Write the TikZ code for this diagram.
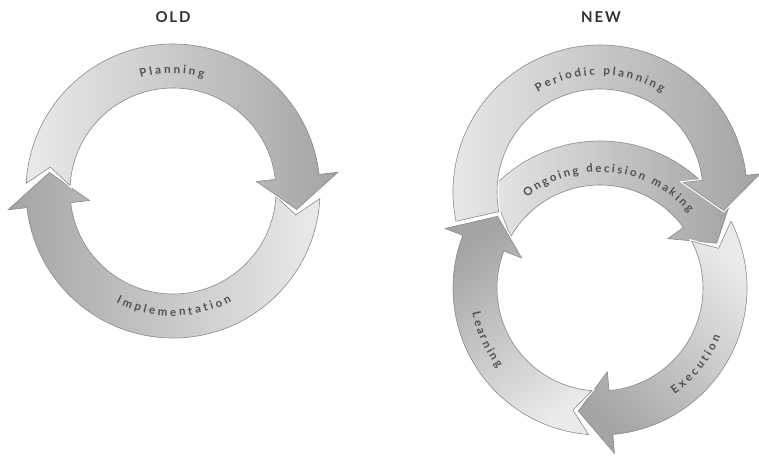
\documentclass[tikz,border=0pt]{standalone}
\usepackage{fontspec}
\setmainfont{Lato}
\usetikzlibrary{decorations.text}
\definecolor{arrlite}{HTML}{EAEAEA}
\definecolor{arrdark}{HTML}{A4A4A4}
\definecolor{arredge}{HTML}{8A8A8A}
\definecolor{lbltext}{HTML}{505050}
\newcommand\lblfont{\fontsize{11.5}{13}\selectfont\bfseries}
\def\RadOut{147pt}\def\RadIn{103pt}\def\RadMid{125pt}\def\BarbOut{166pt}\def\BarbIn{84pt}
% #1 tail corner angle, #2 tail notch apex angle, #3 head base angle, #4 head tip angle, #5 options
\newcommand\ringarrow[5]{\path[#5] (#1:\RadOut) arc[start angle=#1, end angle=#3, radius=\RadOut] -- (#3:\BarbOut) -- (#4:\RadMid) -- (#3:\BarbIn) -- (#3:\RadIn) arc[start angle=#3, end angle=#1, radius=\RadIn] -- (#2:\RadMid) -- cycle;}
% #1 start angle, #2 end angle, #3 radius, #4 text
\newcommand\ringtext[4]{\path[decorate, decoration={text along path, text align={fit to path}, text color=lbltext, text={|\lblfont|#4}}] (#1:#3) arc[start angle=#1, end angle=#2, radius=#3];}
\tikzset{
  arrowbody/.style={draw=arredge, line width=0.6pt, line join=miter},
  gapline/.style={draw=white, line width=3pt, line join=miter},
  titletext/.style={font=\fontsize{15}{17}\selectfont\bfseries\addfontfeature{LetterSpace=12}, text=black!80}
}
\begin{document}
\begin{tikzpicture}[x=1pt,y=1pt]
\useasboundingbox (0,0) rectangle (759,456);
\fill[white] (0,0) rectangle (759,456);

\node[titletext] (oldtitle) at (173,438.5) {OLD};
\node[titletext] (newtitle) at (601,438.5) {NEW};

% ---------- OLD ----------
\begin{scope}[shift={(173,265)}]
  \ringarrow{357}{349}{186.5}{171.5}{gapline}
  \ringarrow{357}{349}{186.5}{171.5}{arrowbody, left color=arrdark, right color=arrlite}
  \ringarrow{177}{169}{6.5}{-8.5}{gapline}
  \ringarrow{177}{169}{6.5}{-8.5}{arrowbody, left color=arrlite, right color=arrdark}
  \ringtext{106}{75}{117.5pt}{Planning}
  \ringtext{243}{298}{125pt}{Implementation}
\end{scope}

% ---------- NEW, lower ring ----------
\begin{scope}[shift={(600,168)}]
  \ringarrow{150}{142.5}{36}{21}{gapline}
  \ringarrow{150}{142.5}{36}{21}{arrowbody, left color=arrlite, right color=arrdark}
  \ringarrow{27}{18.5}{-85}{-100}{gapline}
  \ringarrow{27}{18.5}{-85}{-100}{arrowbody, top color=arrlite, bottom color=arrdark, shading angle=-45}
  \ringarrow{265.5}{257.5}{159}{145}{gapline}
  \ringarrow{265.5}{257.5}{159}{145}{arrowbody, top color=arrdark, bottom color=arrlite, shading angle=35}
\end{scope}

% ---------- NEW, upper ring ----------
\begin{scope}[shift={(600,264)}]
  \path[gapline] (191.5:\RadOut) arc[start angle=191.5, end angle=6.5, radius=\RadOut] -- (6.5:161pt) -- (-8.5:\RadMid) -- (6.5:\BarbIn) -- (6.5:\RadIn) arc[start angle=6.5, end angle=191, radius=\RadIn] -- cycle;
  \path[arrowbody, left color=arrlite, right color=arrdark] (191.5:\RadOut) arc[start angle=191.5, end angle=6.5, radius=\RadOut] -- (6.5:161pt) -- (-8.5:\RadMid) -- (6.5:\BarbIn) -- (6.5:\RadIn) arc[start angle=6.5, end angle=191, radius=\RadIn] -- cycle;
  \ringtext{122}{58}{117pt}{Periodic planning}
\end{scope}

\begin{scope}[shift={(600,168)}]
  \ringtext{129}{40}{116pt}{Ongoing decision making}
  \ringtext{-55}{-22}{130pt}{Execution}
  \ringtext{191}{218}{130pt}{Learning}
\end{scope}
\end{tikzpicture}
\end{document}
